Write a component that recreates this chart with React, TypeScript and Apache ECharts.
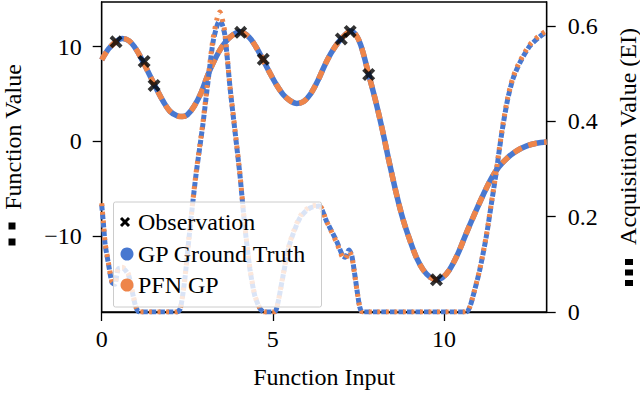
import React, { useEffect, useRef } from "react";
import * as echarts from "echarts";

// ---- data ----
const meanX = [0, 0.2, 0.4, 0.6, 0.8, 1.0, 1.2, 1.4, 1.6, 1.8, 2.0, 2.2, 2.35, 2.5, 2.7, 2.9, 3.1, 3.3, 3.5, 3.75, 4.05, 4.3, 4.5, 4.7, 4.9, 5.1, 5.3, 5.5, 5.7, 5.9, 6.1, 6.3, 6.5, 6.7, 6.9, 7.1, 7.28, 7.45, 7.6, 7.8, 8.0, 8.2, 8.4, 8.6, 8.8, 9.0, 9.2, 9.4, 9.6, 9.78, 9.95, 10.15, 10.4, 10.65, 10.9, 11.15, 11.4, 11.6, 11.85, 12.1, 12.4, 12.7, 13.0];
const gpMean = [8.6, 9.75, 10.45, 10.85, 10.6, 9.75, 8.45, 7.0, 5.55, 4.2, 3.15, 2.7, 2.62, 2.8, 3.7, 5.1, 7.0, 8.6, 9.9, 11.0, 11.55, 11.0, 10.0, 8.7, 7.3, 6.0, 4.95, 4.3, 4.0, 4.2, 5.0, 6.3, 7.9, 9.3, 10.4, 11.2, 11.65, 11.1, 9.8, 7.05, 4.3, 1.2, -2.2, -5.4, -8.2, -10.4, -12.3, -13.6, -14.35, -14.6, -14.4, -13.6, -11.9, -9.7, -7.6, -5.6, -3.8, -2.7, -1.75, -1.05, -0.5, -0.2, -0.08];
const pfnMean = [8.6, 9.75, 10.45, 10.85, 10.6, 9.75, 8.45, 7.0, 5.55, 4.2, 3.15, 2.7, 2.62, 2.8, 3.7, 5.1, 7.0, 8.6, 9.9, 11.0, 11.55, 11.0, 10.0, 8.7, 7.3, 6.0, 4.95, 4.3, 4.0, 4.2, 5.0, 6.3, 7.9, 9.3, 10.4, 11.2, 11.65, 11.1, 9.8, 7.05, 4.3, 1.2, -2.2, -5.4, -8.2, -10.4, -12.3, -13.6, -14.35, -14.6, -14.4, -13.6, -11.9, -9.7, -7.6, -5.6, -3.8, -2.7, -1.75, -1.05, -0.5, -0.2, -0.08];

const eiX = [0, 0.05, 0.1, 0.2, 0.3, 0.38, 0.48, 0.6, 0.78, 0.9, 1.0, 1.1, 2.2, 2.3, 2.43, 2.58, 2.75, 2.95, 3.1, 3.25, 3.38, 3.45, 3.52, 3.6, 3.75, 3.9, 4.04, 4.18, 4.33, 4.47, 4.62, 4.75, 5.05, 5.15, 5.29, 5.49, 5.79, 6.08, 6.35, 6.57, 6.86, 7.04, 7.12, 7.22, 7.3, 7.38, 7.46, 7.54, 7.62, 10.65, 10.75, 10.84, 11.04, 11.23, 11.38, 11.53, 11.62, 11.72, 11.86, 12.01, 12.21, 12.5, 12.79, 13.0];
const gpEI = [0.225, 0.185, 0.142, 0.1, 0.062, 0.058, 0.09, 0.092, 0.078, 0.04, 0.01, 0, 0, 0.008, 0.07, 0.176, 0.285, 0.39, 0.48, 0.565, 0.603, 0.61, 0.603, 0.58, 0.47, 0.375, 0.286, 0.18, 0.09, 0.035, 0.008, 0, 0, 0.02, 0.073, 0.142, 0.197, 0.218, 0.222, 0.19, 0.149, 0.118, 0.115, 0.13, 0.12, 0.085, 0.045, 0.01, 0, 0, 0.01, 0.031, 0.087, 0.156, 0.225, 0.295, 0.342, 0.39, 0.446, 0.488, 0.522, 0.557, 0.577, 0.588];
const pfnEI = [0.228, 0.188, 0.145, 0.102, 0.064, 0.06, 0.092, 0.094, 0.08, 0.042, 0.011, 0, 0, 0.008, 0.072, 0.178, 0.288, 0.393, 0.485, 0.572, 0.618, 0.629, 0.615, 0.585, 0.472, 0.378, 0.288, 0.182, 0.092, 0.036, 0.008, 0, 0, 0.02, 0.074, 0.144, 0.2, 0.221, 0.224, 0.19, 0.146, 0.114, 0.112, 0.127, 0.118, 0.083, 0.044, 0.01, 0, 0, 0.01, 0.032, 0.088, 0.158, 0.227, 0.297, 0.345, 0.393, 0.449, 0.491, 0.525, 0.56, 0.58, 0.59];

const obsX = [0.42, 1.24, 1.53, 4.06, 4.72, 7.0, 7.26, 7.8, 9.78];
const obsY = [10.5, 8.43, 5.9, 11.5, 8.65, 10.8, 11.6, 7.05, -14.6];

const xTicks = [0, 5, 10];
const leftTicks = [-10, 0, 10];
const rightTicks = [0, 0.2, 0.4, 0.6];

const BLUE = "#4878d0";
const ORANGE = "#ee854a";
const FONT = "Liberation Serif";
const X_PATH =
  "path://M2.6,0 L6,3.4 L9.4,0 L12,2.6 L8.6,6 L12,9.4 L9.4,12 L6,8.6 L2.6,12 L0,9.4 L3.4,6 L0,2.6 Z";

export default function App() {
  const ref = useRef<HTMLDivElement>(null);
  useEffect(() => {
    const chart = echarts.init(ref.current as HTMLDivElement, null, { renderer: "svg" });
    const zip = (xs: number[], ys: number[]) => xs.map((x, i) => [x, ys[i]]);
    const axisLineStyle = { color: "#000", width: 1.3 };
    const labelStyle = { fontFamily: FONT, fontSize: 24, color: "#000" };
    const minus = (v: number) => (v < 0 ? "\u2212" + Math.abs(v) : String(v));
    const txt = (text: string, x: number, y: number, align: string, rot = 0) => ({
      type: "text",
      z: 101,
      x,
      y,
      rotation: rot,
      style: {
        text,
        fontFamily: FONT,
        fontSize: 24,
        fill: "#000",
        textAlign: align,
        textVerticalAlign: "middle",
        align,
        verticalAlign: "middle",
      },
    });
    const option: any = {
      animation: false,
      backgroundColor: "#fff",
      textStyle: { fontFamily: FONT },
      grid: {
        left: 101.7,
        right: 93.3,
        top: 2,
        bottom: 79,
        show: true,
        borderColor: "#000",
        borderWidth: 1.3,
        backgroundColor: "transparent",
      },
      xAxis: {
        type: "value",
        min: 0,
        max: 13,
        axisLine: { show: true, onZero: false, lineStyle: axisLineStyle },
        axisTick: { show: true, customValues: xTicks, length: 9, lineStyle: axisLineStyle },
        axisLabel: { ...labelStyle, customValues: xTicks, margin: 15 },
        splitLine: { show: false },
        name: "Function Input",
        nameLocation: "middle",
        nameGap: 53,
        nameTextStyle: { fontFamily: FONT, fontSize: 24, color: "#000" },
      },
      yAxis: [
        {
          type: "value",
          position: "left",
          min: -18,
          max: 14.7,
          axisLine: { show: true, onZero: false, lineStyle: axisLineStyle },
          axisTick: { show: true, customValues: leftTicks, length: 9, lineStyle: axisLineStyle },
          axisLabel: { ...labelStyle, customValues: leftTicks, margin: 20, formatter: minus },
          splitLine: { show: false },
        },
        {
          type: "value",
          position: "right",
          min: 0,
          max: 0.65,
          axisLine: { show: true, onZero: false, lineStyle: axisLineStyle },
          axisTick: { show: true, customValues: rightTicks, length: 9, lineStyle: axisLineStyle },
          axisLabel: {
            ...labelStyle,
            customValues: rightTicks,
            margin: 21,
            formatter: (v: number) => (v === 0 ? "0" : v.toFixed(1)),
          },
          splitLine: { show: false },
        },
      ],
      series: [
        {
          name: "GP Ground Truth",
          type: "line",
          yAxisIndex: 0,
          data: zip(meanX, gpMean),
          showSymbol: false,
          smooth: 0.35,
          lineStyle: { color: BLUE, width: 5.5 },
          z: 2,
        },
        {
          name: "PFN GP",
          type: "line",
          yAxisIndex: 0,
          data: zip(meanX, pfnMean),
          showSymbol: false,
          smooth: 0.35,
          lineStyle: { color: ORANGE, width: 5.5, type: [9, 7], cap: "butt" },
          z: 2,
        },
        {
          name: "Observation",
          type: "scatter",
          yAxisIndex: 0,
          data: zip(obsX, obsY),
          symbol: X_PATH,
          symbolSize: 13,
          itemStyle: { color: "#000" },
          z: 3,
        },
        {
          name: "GP EI",
          type: "line",
          yAxisIndex: 1,
          data: zip(eiX, gpEI),
          showSymbol: false,
          smooth: 0.25,
          lineStyle: { color: BLUE, width: 5, type: [6, 2.5], cap: "butt" },
          z: 4,
        },
        {
          name: "PFN EI",
          type: "line",
          yAxisIndex: 1,
          data: zip(eiX, pfnEI),
          showSymbol: false,
          smooth: 0.25,
          lineStyle: { color: ORANGE, width: 5, type: [3, 5.5], cap: "butt" },
          z: 4,
        },
      ],
      graphic: [
        {
          type: "rect",
          z: 100,
          shape: { x: 113.5, y: 202, width: 208, height: 105, r: 2 },
          style: { fill: "rgba(255,255,255,0.8)", stroke: "#cccccc", lineWidth: 1 },
        },
        {
          type: "line",
          z: 101,
          shape: { x1: 121, y1: 218, x2: 129, y2: 226 },
          style: { stroke: "#000", lineWidth: 3 },
        },
        {
          type: "line",
          z: 101,
          shape: { x1: 129, y1: 218, x2: 121, y2: 226 },
          style: { stroke: "#000", lineWidth: 3 },
        },
        { type: "circle", z: 101, shape: { cx: 127, cy: 254, r: 6.5 }, style: { fill: BLUE } },
        { type: "circle", z: 101, shape: { cx: 127, cy: 285, r: 6.5 }, style: { fill: ORANGE } },
        txt("Observation", 138, 222, "left"),
        txt("GP Ground Truth", 138, 254, "left"),
        txt("PFN GP", 138, 285, "left"),
        txt("Function Value", 12.5, 137, "center", Math.PI / 2),
        txt("Acquisition Value (EI)", 627.5, 136.5, "center", Math.PI / 2),
        { type: "rect", z: 101, shape: { x: 8.5, y: 222.5, width: 7, height: 7 }, style: { fill: "#000" } },
        { type: "rect", z: 101, shape: { x: 8.5, y: 238.5, width: 7, height: 7 }, style: { fill: "#000" } },
        { type: "rect", z: 101, shape: { x: 625, y: 259, width: 8, height: 6 }, style: { fill: "#000" } },
        { type: "rect", z: 101, shape: { x: 625, y: 269.5, width: 8, height: 6 }, style: { fill: "#000" } },
        { type: "rect", z: 101, shape: { x: 625, y: 280, width: 8, height: 6 }, style: { fill: "#000" } },
      ],
    };
    chart.setOption(option);
    return () => chart.dispose();
  }, []);
  return (
    <div
      ref={ref}
      style={{ position: "fixed", left: 0, top: 0, width: 640, height: 394, background: "#fff" }}
    />
  );
}
